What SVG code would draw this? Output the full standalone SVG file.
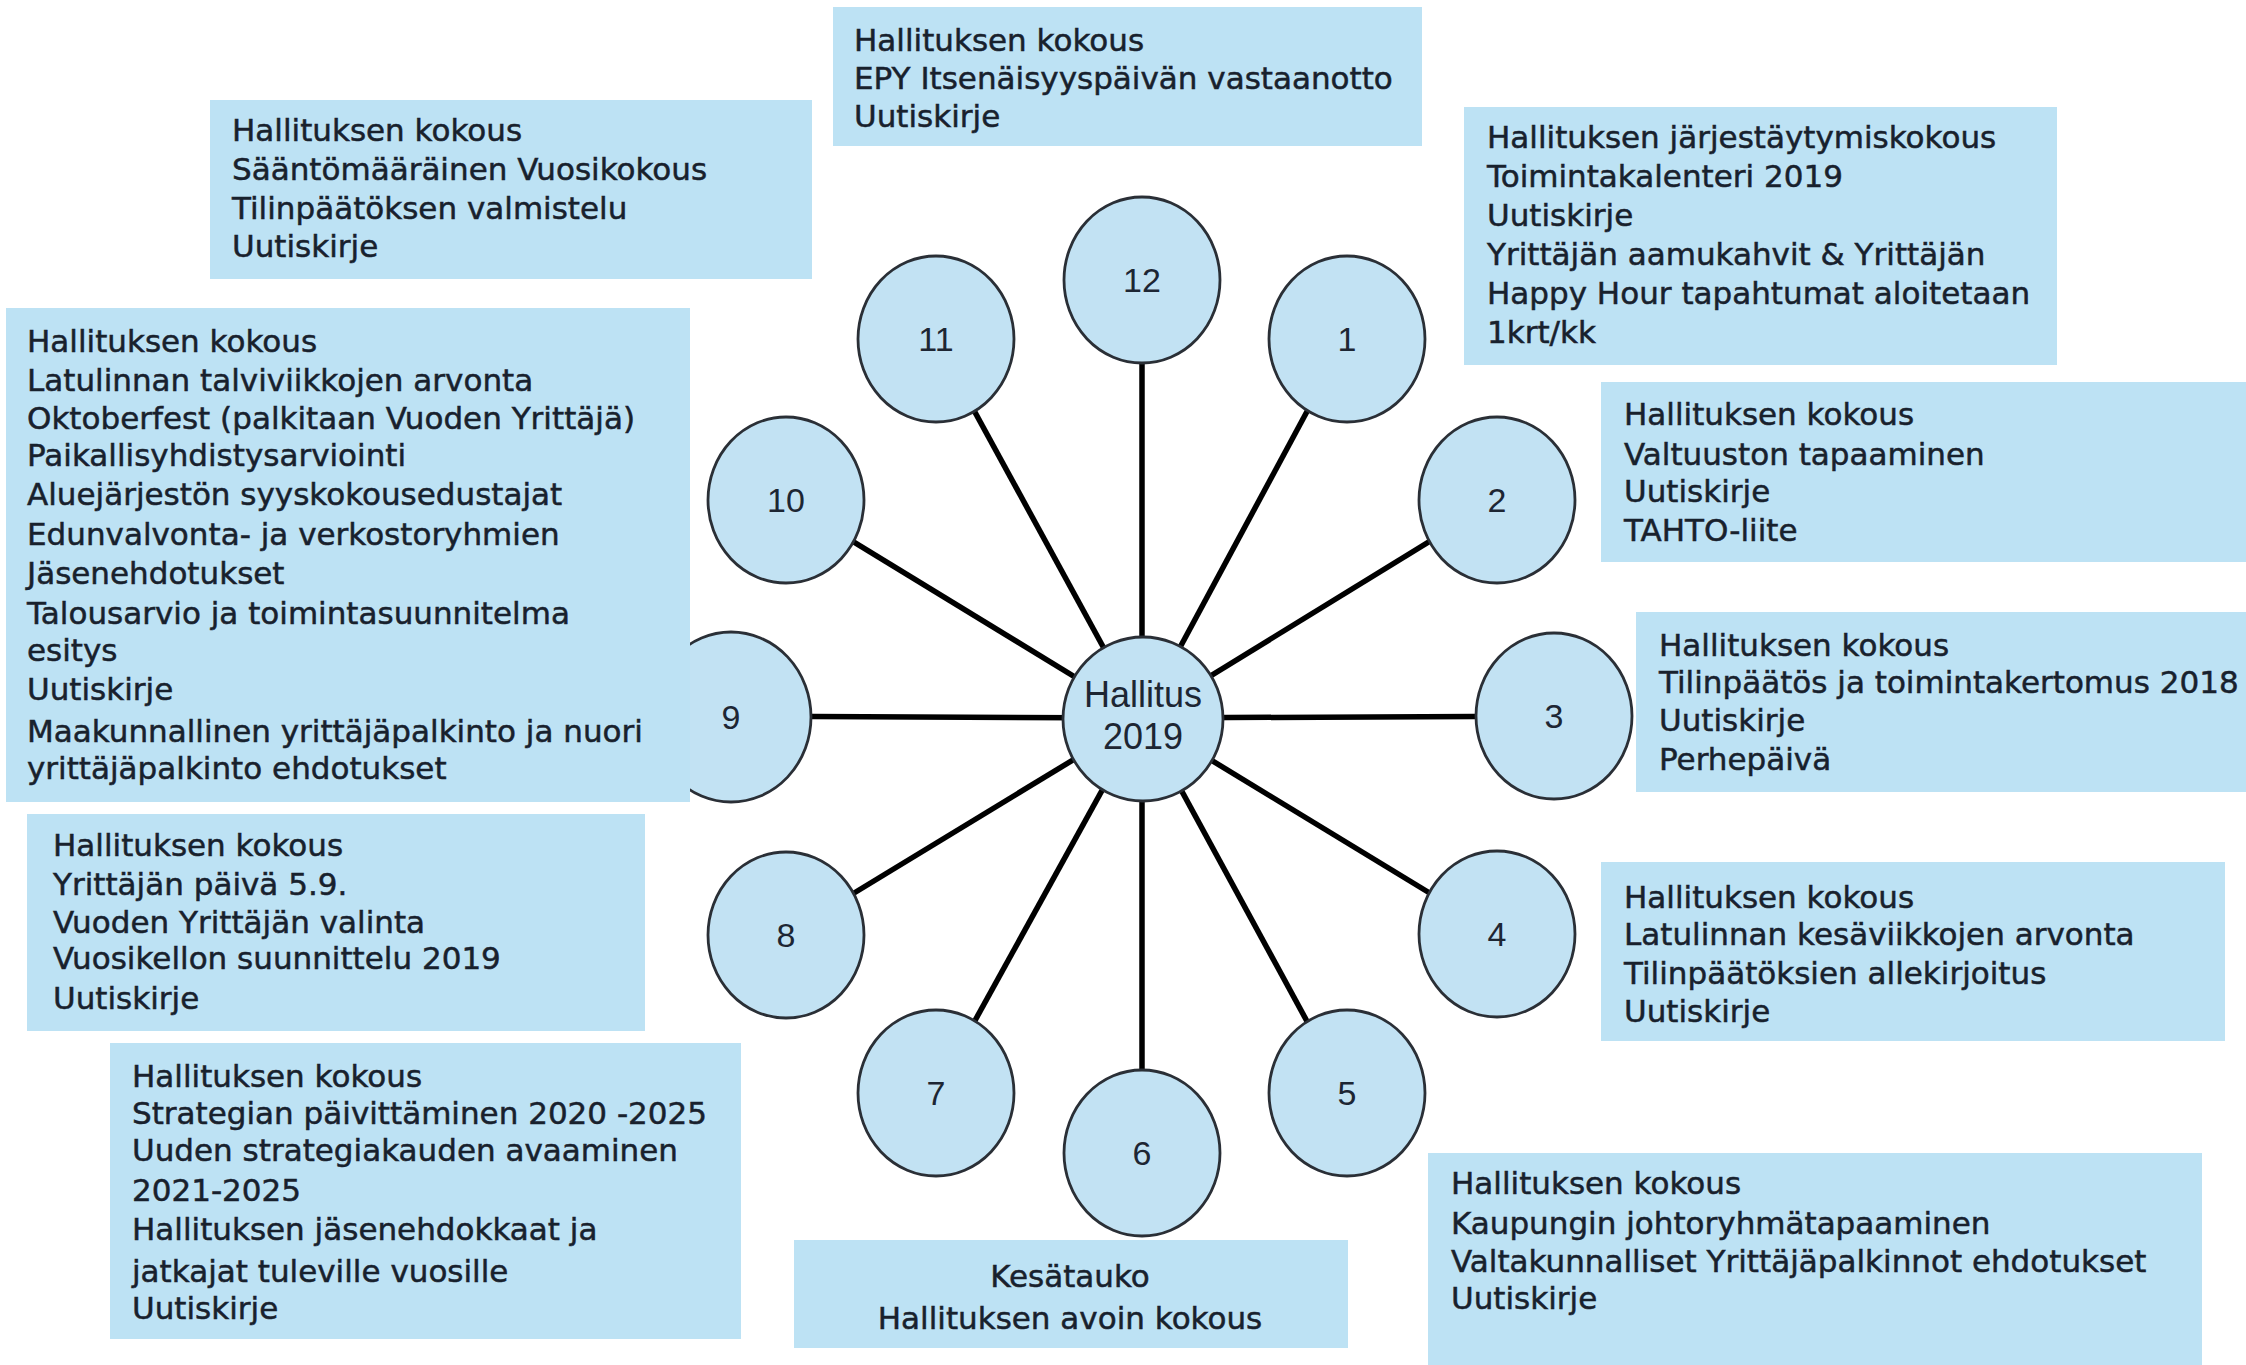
<svg xmlns="http://www.w3.org/2000/svg" width="2246" height="1365" viewBox="0 0 2246 1365">
<style>
.bg{fill:#ffffff}
.box{fill:#bde2f4}
.t{font-family:"DejaVu Sans",sans-serif;font-size:31px;fill:#18212d;stroke:#18212d;stroke-width:0.5}
.tc{font-family:"DejaVu Sans",sans-serif;font-size:31px;fill:#18212d;stroke:#18212d;stroke-width:0.5;text-anchor:middle}
.circ{fill:#c2e2f3;stroke:#2a2f36;stroke-width:2.8}
.num{font-family:"Liberation Sans",Arial,sans-serif;font-size:34px;fill:#1d2633;text-anchor:middle}
.hub{font-family:"Liberation Sans",Arial,sans-serif;font-size:36px;fill:#1d2633;text-anchor:middle}
.conn line{stroke:#000;stroke-width:5.5}
</style>
<rect class="bg" x="0" y="0" width="2246" height="1365"/>
<g id="connectors" class="conn">
<line x1="1142" y1="718" x2="1142" y2="280"/>
<line x1="1142" y1="718" x2="1346" y2="339"/>
<line x1="1142" y1="718" x2="1497" y2="500"/>
<line x1="1142" y1="718" x2="1554" y2="716"/>
<line x1="1142" y1="718" x2="1497" y2="934"/>
<line x1="1142" y1="718" x2="1346" y2="1093"/>
<line x1="1142" y1="718" x2="1142" y2="1153"/>
<line x1="1142" y1="718" x2="935" y2="1093"/>
<line x1="1142" y1="718" x2="785" y2="935"/>
<line x1="1142" y1="718" x2="731" y2="716"/>
<line x1="1142" y1="718" x2="785" y2="500"/>
<line x1="1142" y1="718" x2="935" y2="339"/>
</g>
<g id="hub"><ellipse class="circ" cx="1143" cy="719" rx="80" ry="82"/><text class="hub" x="1143" y="707">Hallitus</text><text class="hub" x="1143" y="749">2019</text></g>
<g id="m12"><ellipse class="circ" cx="1142" cy="280" rx="78" ry="83"/><text class="num" x="1142" y="292">12</text></g>
<g id="m1"><ellipse class="circ" cx="1347" cy="339" rx="78" ry="83"/><text class="num" x="1347" y="351">1</text></g>
<g id="m2"><ellipse class="circ" cx="1497" cy="500" rx="78" ry="83"/><text class="num" x="1497" y="512">2</text></g>
<g id="m3"><ellipse class="circ" cx="1554" cy="716" rx="78" ry="83"/><text class="num" x="1554" y="728">3</text></g>
<g id="m4"><ellipse class="circ" cx="1497" cy="934" rx="78" ry="83"/><text class="num" x="1497" y="946">4</text></g>
<g id="m5"><ellipse class="circ" cx="1347" cy="1093" rx="78" ry="83"/><text class="num" x="1347" y="1105">5</text></g>
<g id="m6"><ellipse class="circ" cx="1142" cy="1153" rx="78" ry="83"/><text class="num" x="1142" y="1165">6</text></g>
<g id="m7"><ellipse class="circ" cx="936" cy="1093" rx="78" ry="83"/><text class="num" x="936" y="1105">7</text></g>
<g id="m8"><ellipse class="circ" cx="786" cy="935" rx="78" ry="83"/><text class="num" x="786" y="947">8</text></g>
<g id="m9"><ellipse class="circ" cx="731" cy="717" rx="80" ry="85"/><text class="num" x="731" y="729">9</text></g>
<g id="m10"><ellipse class="circ" cx="786" cy="500" rx="78" ry="83"/><text class="num" x="786" y="512">10</text></g>
<g id="m11"><ellipse class="circ" cx="936" cy="339" rx="78" ry="83"/><text class="num" x="936" y="351">11</text></g>

<g id="box12"><rect class="box" x="833" y="7" width="589" height="139"/>
<text class="t" x="854" y="51">Hallituksen kokous</text>
<text class="t" x="854" y="89">EPY Itsenäisyyspäivän vastaanotto</text>
<text class="t" x="854" y="127">Uutiskirje</text></g>

<g id="box11"><rect class="box" x="210" y="100" width="602" height="179"/>
<text class="t" x="232" y="141">Hallituksen kokous</text>
<text class="t" x="232" y="180">Sääntömääräinen Vuosikokous</text>
<text class="t" x="232" y="219">Tilinpäätöksen valmistelu</text>
<text class="t" x="232" y="257">Uutiskirje</text></g>

<g id="box1"><rect class="box" x="1464" y="107" width="593" height="258"/>
<text class="t" x="1487" y="148">Hallituksen järjestäytymiskokous</text>
<text class="t" x="1487" y="187">Toimintakalenteri 2019</text>
<text class="t" x="1487" y="226">Uutiskirje</text>
<text class="t" x="1487" y="265">Yrittäjän aamukahvit &amp; Yrittäjän</text>
<text class="t" x="1487" y="304">Happy Hour tapahtumat aloitetaan</text>
<text class="t" x="1487" y="343">1krt/kk</text></g>

<g id="box2"><rect class="box" x="1601" y="382" width="645" height="180"/>
<text class="t" x="1624" y="425">Hallituksen kokous</text>
<text class="t" x="1624" y="465">Valtuuston tapaaminen</text>
<text class="t" x="1624" y="502">Uutiskirje</text>
<text class="t" x="1624" y="541">TAHTO-liite</text></g>

<g id="box10"><rect class="box" x="6" y="308" width="684" height="494"/>
<text class="t" x="27" y="352">Hallituksen kokous</text>
<text class="t" x="27" y="391">Latulinnan talviviikkojen arvonta</text>
<text class="t" x="27" y="429">Oktoberfest (palkitaan Vuoden Yrittäjä)</text>
<text class="t" x="27" y="466">Paikallisyhdistysarviointi</text>
<text class="t" x="27" y="505">Aluejärjestön syyskokousedustajat</text>
<text class="t" x="27" y="545">Edunvalvonta- ja verkostoryhmien</text>
<text class="t" x="27" y="584">Jäsenehdotukset</text>
<text class="t" x="27" y="624">Talousarvio ja toimintasuunnitelma</text>
<text class="t" x="27" y="661">esitys</text>
<text class="t" x="27" y="700">Uutiskirje</text>
<text class="t" x="27" y="742">Maakunnallinen yrittäjäpalkinto ja nuori</text>
<text class="t" x="27" y="779">yrittäjäpalkinto ehdotukset</text></g>

<g id="box3"><rect class="box" x="1636" y="612" width="610" height="180"/>
<text class="t" x="1659" y="656">Hallituksen kokous</text>
<text class="t" x="1659" y="693">Tilinpäätös ja toimintakertomus 2018</text>
<text class="t" x="1659" y="731">Uutiskirje</text>
<text class="t" x="1659" y="770">Perhepäivä</text></g>

<g id="box8"><rect class="box" x="27" y="814" width="618" height="217"/>
<text class="t" x="53" y="856">Hallituksen kokous</text>
<text class="t" x="53" y="895">Yrittäjän päivä 5.9.</text>
<text class="t" x="53" y="933">Vuoden Yrittäjän valinta</text>
<text class="t" x="53" y="969">Vuosikellon suunnittelu 2019</text>
<text class="t" x="53" y="1009">Uutiskirje</text></g>

<g id="box4"><rect class="box" x="1601" y="862" width="624" height="179"/>
<text class="t" x="1624" y="908">Hallituksen kokous</text>
<text class="t" x="1624" y="945">Latulinnan kesäviikkojen arvonta</text>
<text class="t" x="1624" y="984">Tilinpäätöksien allekirjoitus</text>
<text class="t" x="1624" y="1022">Uutiskirje</text></g>

<g id="box7"><rect class="box" x="110" y="1043" width="631" height="296"/>
<text class="t" x="132" y="1087">Hallituksen kokous</text>
<text class="t" x="132" y="1124">Strategian päivittäminen 2020 -2025</text>
<text class="t" x="132" y="1161">Uuden strategiakauden avaaminen</text>
<text class="t" x="132" y="1201">2021-2025</text>
<text class="t" x="132" y="1240">Hallituksen jäsenehdokkaat ja</text>
<text class="t" x="132" y="1282">jatkajat tuleville vuosille</text>
<text class="t" x="132" y="1319">Uutiskirje</text></g>

<g id="box6"><rect class="box" x="794" y="1240" width="554" height="108"/>
<text class="tc" x="1070" y="1287">Kesätauko</text>
<text class="tc" x="1070" y="1329">Hallituksen avoin kokous</text></g>

<g id="box5"><rect class="box" x="1428" y="1153" width="774" height="212"/>
<text class="t" x="1451" y="1194">Hallituksen kokous</text>
<text class="t" x="1451" y="1234">Kaupungin johtoryhmätapaaminen</text>
<text class="t" x="1451" y="1272">Valtakunnalliset Yrittäjäpalkinnot ehdotukset</text>
<text class="t" x="1451" y="1309">Uutiskirje</text></g>
</svg>
